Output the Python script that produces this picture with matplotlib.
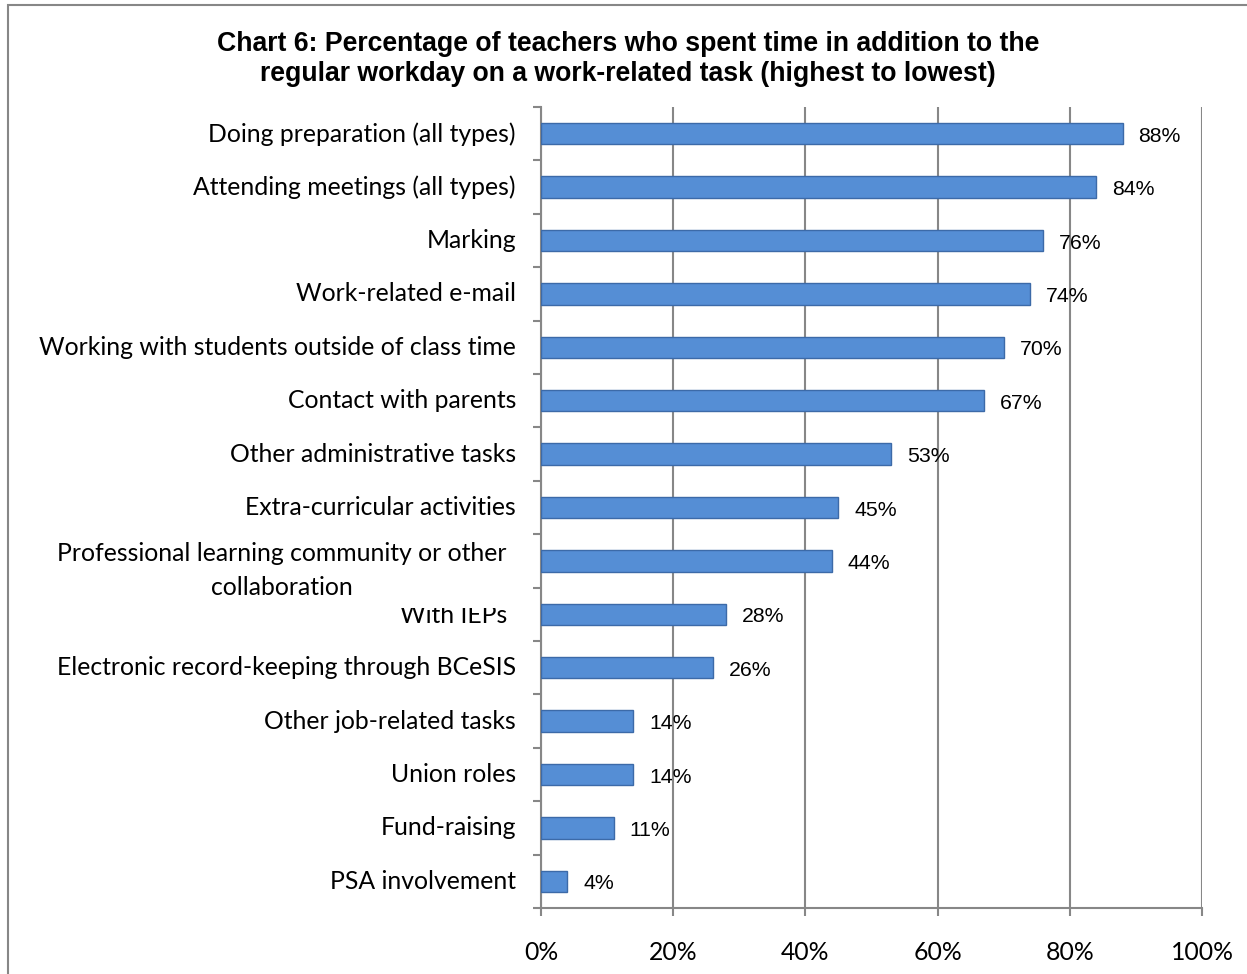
import numpy as np
import matplotlib.pyplot as plt
from matplotlib.patches import Rectangle
from matplotlib.transforms import Bbox, TransformedBbox

# Data (highest to lowest)
tasks = [
    "Doing preparation (all types)",
    "Attending meetings (all types)",
    "Marking",
    "Work-related e-mail",
    "Working with students outside of class time",
    "Contact with parents",
    "Other administrative tasks",
    "Extra-curricular activities",
    "Professional learning community or other\ncollaboration",
    "With IEPs",
    "Electronic record-keeping through BCeSIS",
    "Other job-related tasks",
    "Union roles",
    "Fund-raising",
    "PSA involvement",
]
percent = [88, 84, 76, 74, 70, 67, 53, 45, 44, 28, 26, 14, 14, 11, 4]
xticks = [0, 20, 40, 60, 80, 100]

title = ("Chart 6: Percentage of teachers who spent time in addition to the\n"
         "regular workday on a work-related task (highest to lowest)")

gray = "#878787"
bar_color = "#558ED5"
edge_color = "#3C6AA8"
label_font = ["Lato", "DejaVu Sans"]
label_size = 17.8

fig = plt.figure(figsize=(12.47, 9.74), dpi=100)
ax = fig.add_axes([0.4338, 0.0678, 0.5301, 0.8223])

n = len(tasks)
y = np.arange(n)
ax.barh(y, percent, height=0.4, color=bar_color, edgecolor=edge_color,
        linewidth=1, zorder=3)
ax.set_ylim(n - 0.5, -0.5)
ax.set_xlim(0, 100)

# value labels
for yi, v in zip(y, percent):
    ax.text(v + 2.4, yi + 0.05, f"{v}%", va="center", ha="left", fontsize=15.3,
            family="Liberation Sans", color="black", zorder=4)

# grid and spines
ax.set_xticks(xticks)
ax.set_xticklabels([f"{t}%" for t in xticks], family=label_font,
                   fontsize=label_size)
ax.xaxis.grid(True, color=gray, linewidth=1.5, zorder=0)
for s in ["top", "right"]:
    ax.spines[s].set_visible(False)
for s in ["left", "bottom"]:
    ax.spines[s].set_color(gray)
    ax.spines[s].set_linewidth(1.5)
ax.tick_params(axis="x", length=6, width=1.5, color=gray, pad=17.5)

# y ticks at category boundaries, labels placed manually
ax.set_yticks(np.arange(n + 1) - 0.5)
ax.set_yticklabels([])
ax.tick_params(axis="y", length=6, width=1.5, color=gray)

ytr = ax.get_yaxis_transform()
for yi, lab in zip(y, tasks):
    if "\n" in lab:
        ax.text(-0.392, yi + 0.18, lab, transform=ytr, ha="center",
                va="center", fontsize=label_size, family=label_font,
                multialignment="center", linespacing=1.58)
    elif lab == "With IEPs":
        t = ax.text(-0.0514, yi + 0.02, lab, transform=ytr, ha="right",
                    va="center", fontsize=label_size, family=label_font)
        t.set_clip_box(TransformedBbox(Bbox([[-0.4, yi - 0.12],
                                             [0.0, yi + 0.6]]), ytr))
        t.set_clip_on(True)
    else:
        ax.text(-0.0378, yi, lab, transform=ytr, ha="right", va="center",
                fontsize=label_size, family=label_font)

fig.text(0.5036, 0.939, title, ha="center", va="center", fontsize=19.2,
         fontweight="bold", family="Liberation Sans", linespacing=1.2)

# outer chart frame
fig.patches.append(Rectangle((8 / 1247, -0.01), 1.2, 1.0 - 5 / 974 + 0.01,
                             transform=fig.transFigure, fill=False,
                             edgecolor=gray, linewidth=1.5))

fig.savefig("out.png", dpi=100)
